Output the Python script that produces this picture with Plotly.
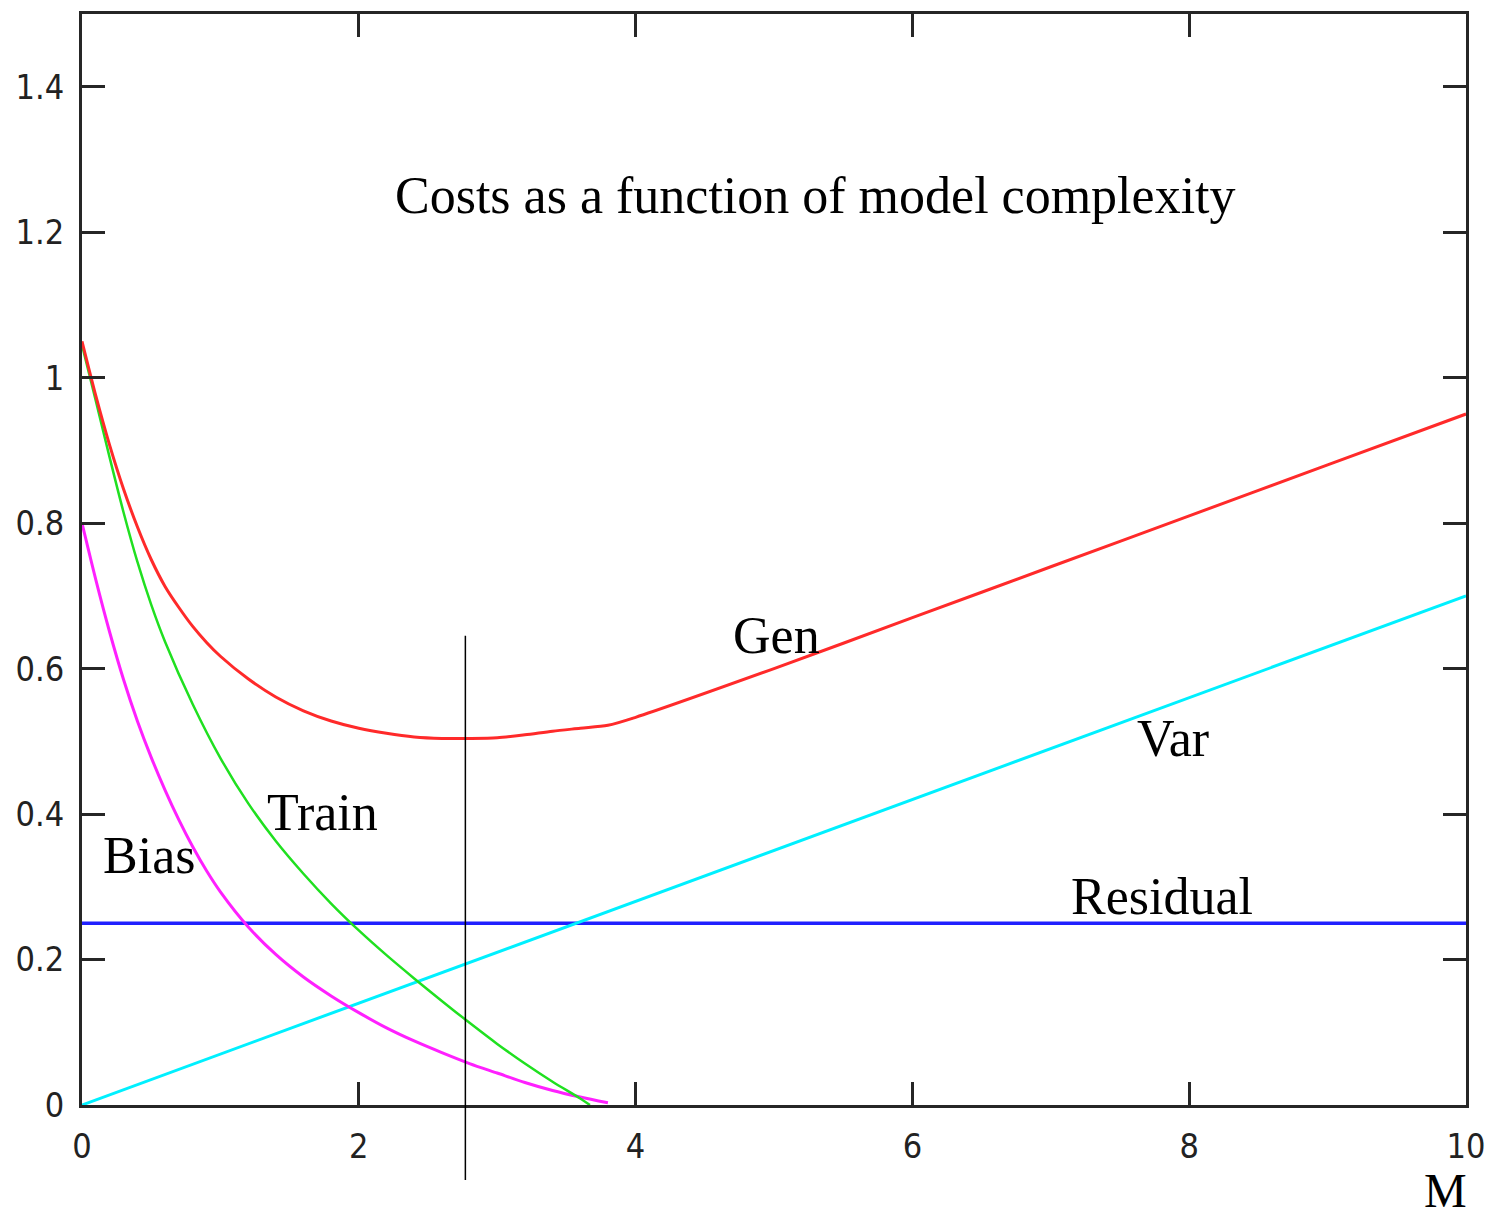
import plotly.graph_objects as go

# ---- data ----
m_grid = [0.0, 0.1, 0.2, 0.3, 0.4, 0.5, 0.6, 0.7, 0.8, 0.9, 1.0, 1.2, 1.4, 1.6,
          1.8, 2.0, 2.2, 2.4, 2.6, 2.8, 3.0, 3.2, 3.4, 3.6, 3.8]
bias = [0.80, 0.722, 0.650, 0.585, 0.528, 0.478, 0.433, 0.392, 0.355, 0.322,
        0.293, 0.245, 0.207, 0.176, 0.150, 0.127, 0.106, 0.088, 0.072, 0.057,
        0.044, 0.031, 0.020, 0.011, 0.003]

train_m = [0.0, 0.1, 0.2, 0.3, 0.4, 0.5, 0.6, 0.8, 1.0, 1.2, 1.4, 1.6, 1.8,
           2.0, 2.2, 2.4, 2.6, 2.8, 3.0, 3.2, 3.4, 3.6, 3.67]
train = [1.045, 0.968, 0.890, 0.815, 0.747, 0.688, 0.637, 0.551, 0.477, 0.415,
         0.363, 0.318, 0.277, 0.240, 0.206, 0.174, 0.143, 0.113, 0.084, 0.057,
         0.032, 0.009, 0.0]

gen_m = [0.0, 0.1, 0.2, 0.3, 0.4, 0.5, 0.6, 0.7, 0.8, 0.9, 1.0, 1.2, 1.4, 1.6,
         1.8, 2.0, 2.2, 2.4, 2.6, 2.8, 3.0, 3.2, 3.4, 3.6, 3.8, 4.0,
         5.0, 6.0, 7.0, 8.0, 9.0, 10.0]
gen = [1.05, 0.975, 0.907, 0.847, 0.795, 0.750, 0.713, 0.684, 0.658, 0.636,
       0.617, 0.586, 0.561, 0.542, 0.528, 0.518, 0.511, 0.506, 0.504, 0.504,
       0.505, 0.509, 0.514, 0.518, 0.522, 0.533,
       0.600, 0.670, 0.740, 0.810, 0.880, 0.950]

var_m = [0.0, 10.0]
var = [0.0, 0.70]

residual_m = [0.0, 10.0]
residual = [0.25, 0.25]

marker_m = 2.77             # vertical marker position
marker_y = [-0.103, 0.645]  # vertical extent

x_ticks = [0, 2, 4, 6, 8, 10]
y_ticks = [0, 0.2, 0.4, 0.6, 0.8, 1.0, 1.2, 1.4]
y_tick_text = ["0", "0.2", "0.4", "0.6", "0.8", "1", "1.2", "1.4"]
x_range = [0, 10]
y_range = [0, 1.5]

# ---- figure ----
fig = go.Figure()
fig.add_trace(go.Scatter(x=residual_m, y=residual, mode="lines",
                         line=dict(color="#2020ff", width=3.5), name="Residual"))
fig.add_trace(go.Scatter(x=var_m, y=var, mode="lines",
                         line=dict(color="#00f0ff", width=3), name="Var"))
fig.add_trace(go.Scatter(x=m_grid, y=bias, mode="lines",
                         line=dict(color="#ff20ff", width=3, shape="spline", smoothing=0.8),
                         name="Bias"))
fig.add_trace(go.Scatter(x=train_m, y=train, mode="lines",
                         line=dict(color="#20e020", width=2.5, shape="spline", smoothing=0.8),
                         name="Train"))
fig.add_trace(go.Scatter(x=gen_m, y=gen, mode="lines",
                         line=dict(color="#ff2a2a", width=3, shape="spline", smoothing=0.8),
                         name="Gen"))


def to_paper(v):
    return (v - y_range[0]) / (y_range[1] - y_range[0])


# vertical marker line (extends below the axis)
fig.add_shape(type="line", xref="x", yref="paper",
              x0=marker_m, x1=marker_m,
              y0=to_paper(marker_y[0]), y1=to_paper(marker_y[1]),
              line=dict(color="black", width=1.5), layer="above")

serif = "Liberation Serif, Times New Roman, serif"
labels = [
    ("Costs as a function of model complexity", 5.30, 1.25, 52),
    ("Gen", 5.02, 0.646, 52),
    ("Var", 7.88, 0.504, 52),
    ("Train", 1.735, 0.4025, 52),
    ("Bias", 0.484, 0.3435, 52),
    ("Residual", 7.80, 0.286, 52),
    ("M", 9.85, -0.118, 48),
]
for txt, lx, ly, fs in labels:
    fig.add_annotation(x=lx, y=to_paper(ly), xref="x", yref="paper", text=txt,
                       showarrow=False, xanchor="center", yanchor="middle",
                       borderpad=0,
                       font=dict(family=serif, size=fs, color="black"))

axis_common = dict(showline=True, linecolor="#262626", linewidth=3,
                   mirror="ticks", ticks="inside", ticklen=23, tickwidth=3,
                   tickcolor="#262626", showgrid=False, zeroline=False,
                   tickfont=dict(family="DejaVu Sans Condensed, DejaVu Sans", size=34,
                                 color="#222222"))

fig.update_xaxes(range=x_range, tickvals=x_ticks, ticktext=[str(t) for t in x_ticks],
                 ticklabelstandoff=9, **axis_common)
fig.update_yaxes(range=y_range, tickvals=y_ticks, ticktext=y_tick_text,
                 ticklabelstandoff=8, **axis_common)

fig.update_layout(width=1497, height=1224, showlegend=False,
                  plot_bgcolor="white", paper_bgcolor="white",
                  margin=dict(l=82, r=31, t=14, b=119))

fig.write_html("out.html", config={"displayModeBar": False},
               post_script="document.body.style.margin='0px';"
                           "document.body.style.overflow='hidden';")
